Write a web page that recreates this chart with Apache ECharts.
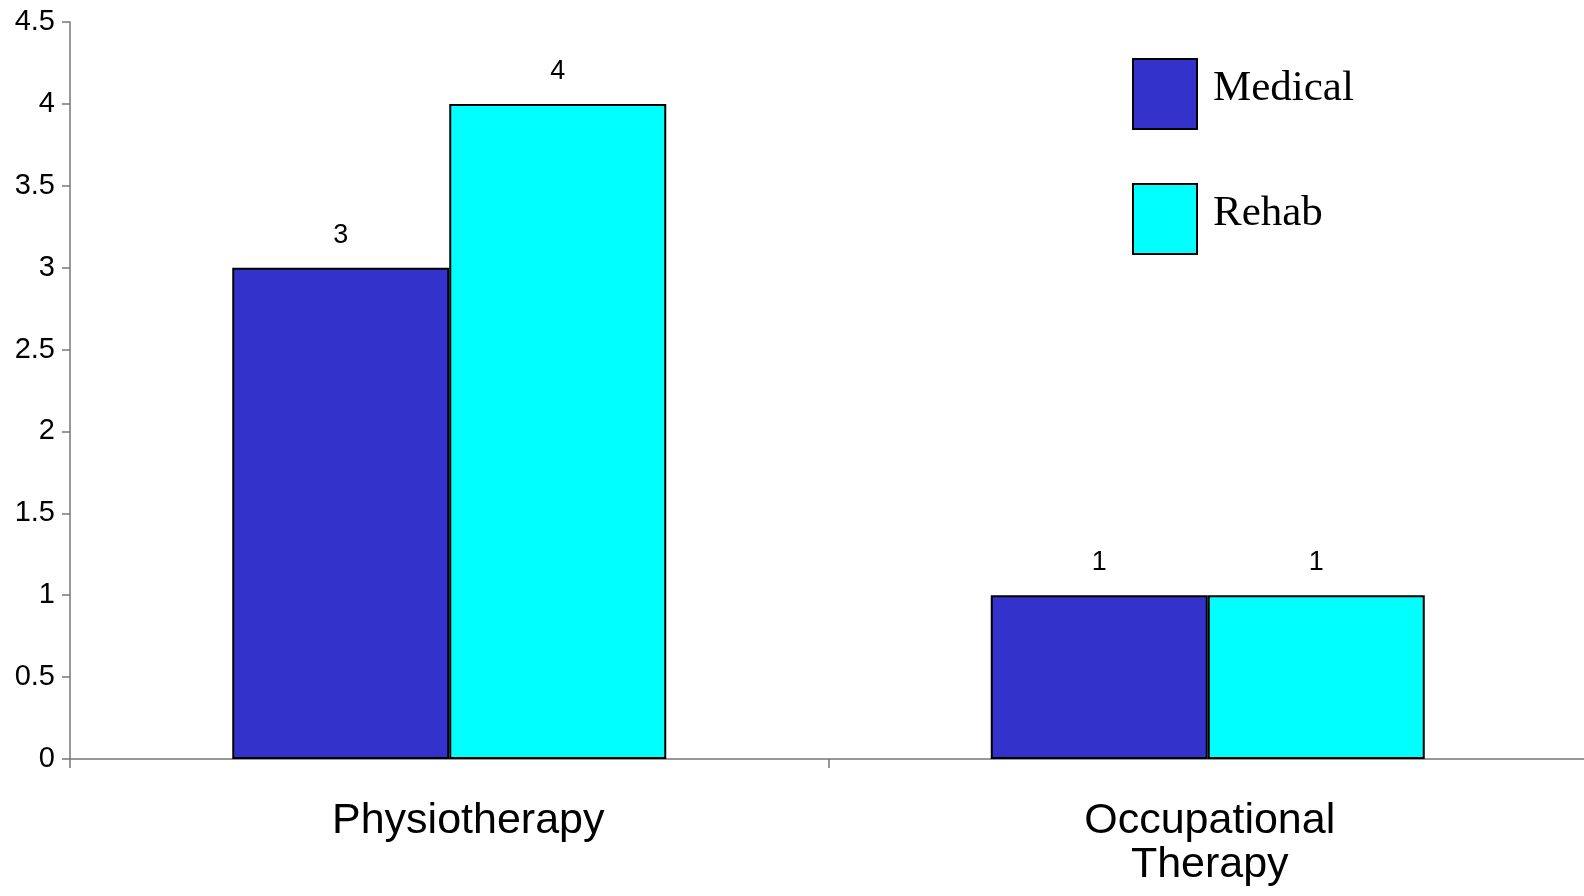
<!DOCTYPE html>
<html>
<head>
<meta charset="utf-8">
<script src="https://cdn.jsdelivr.net/npm/echarts@6/dist/echarts.min.js"></script>
<style>html,body{margin:0;padding:0;background:#fff;}#c{width:1584px;height:896px;}</style>
</head>
<body>
<div id="c"></div>
<script>
const categories = ['Physiotherapy', 'Occupational\nTherapy'];
const seriesNames = ['Medical', 'Rehab'];
const medicalValues = [3, 1];
const rehabValues = [4, 1];
const yTicks = { min: 0, max: 4.5, interval: 0.5 };

const chart = echarts.init(document.getElementById('c'), null, { renderer: 'canvas' });
const labelStyle = {
  show: true, position: 'top', distance: 19,
  fontFamily: 'Liberation Sans, Arial, sans-serif', fontSize: 27, color: '#000'
};
const sans = 'Liberation Sans, Arial, sans-serif';
chart.setOption({
  animation: false,
  backgroundColor: '#fff',
  grid: { left: 70, width: 1517, top: 22, bottom: 137, containLabel: false, outerBoundsMode: 'none' },
  legend: {
    orient: 'vertical', left: 1132, top: 58, padding: 0,
    itemWidth: 64, itemHeight: 70, itemGap: 53,
    icon: 'rect',
    formatter: function (name) { return '{t|' + name + '}'; },
    textStyle: {
      fontFamily: 'Liberation Serif, Times New Roman, serif', fontSize: 43, color: '#000',
      rich: { t: { fontFamily: 'Liberation Serif, Times New Roman, serif', fontSize: 43, color: '#000', padding: [0, 0, 10, 11] } }
    },
    data: seriesNames
  },
  xAxis: {
    type: 'category', data: categories,
    axisLine: { lineStyle: { color: '#777', width: 1.5 } },
    axisTick: { show: true, length: 9, interval: 0, lineStyle: { color: '#777', width: 1.5 } },
    axisLabel: {
      interval: 0, margin: 40, color: '#000',
      fontFamily: sans, fontSize: 43, lineHeight: 44,
      formatter: function (v, i) {
        if (i === 0) return '{p|' + v + '}';
        return v.split('\n').map(function (s) { return '{o|' + s + '}'; }).join('\n');
      },
      rich: {
        p: { fontFamily: sans, fontSize: 43, lineHeight: 44, padding: [0, 0, 0, 38], color: '#000' },
        o: { fontFamily: sans, fontSize: 43, lineHeight: 44, padding: [0, 0, 0, 4], color: '#000' }
      }
    }
  },
  yAxis: {
    type: 'value', min: yTicks.min, max: yTicks.max, interval: yTicks.interval,
    axisLine: { show: true, lineStyle: { color: '#777', width: 1.5 } },
    axisTick: { show: true, length: 8, lineStyle: { color: '#777', width: 1.5 } },
    splitLine: { show: false },
    axisLabel: { margin: 15, color: '#000', fontFamily: sans, fontSize: 29 }
  },
  series: [
    {
      name: seriesNames[0], type: 'bar', data: medicalValues, barWidth: 217, barGap: '0%',
      itemStyle: { color: '#3333CC', borderColor: '#000', borderWidth: 2 },
      label: labelStyle
    },
    {
      name: seriesNames[1], type: 'bar', data: rehabValues, barWidth: 217, barGap: '0%',
      itemStyle: { color: '#00FFFF', borderColor: '#000', borderWidth: 2 },
      label: labelStyle
    }
  ]
});
</script>
</body>
</html>
